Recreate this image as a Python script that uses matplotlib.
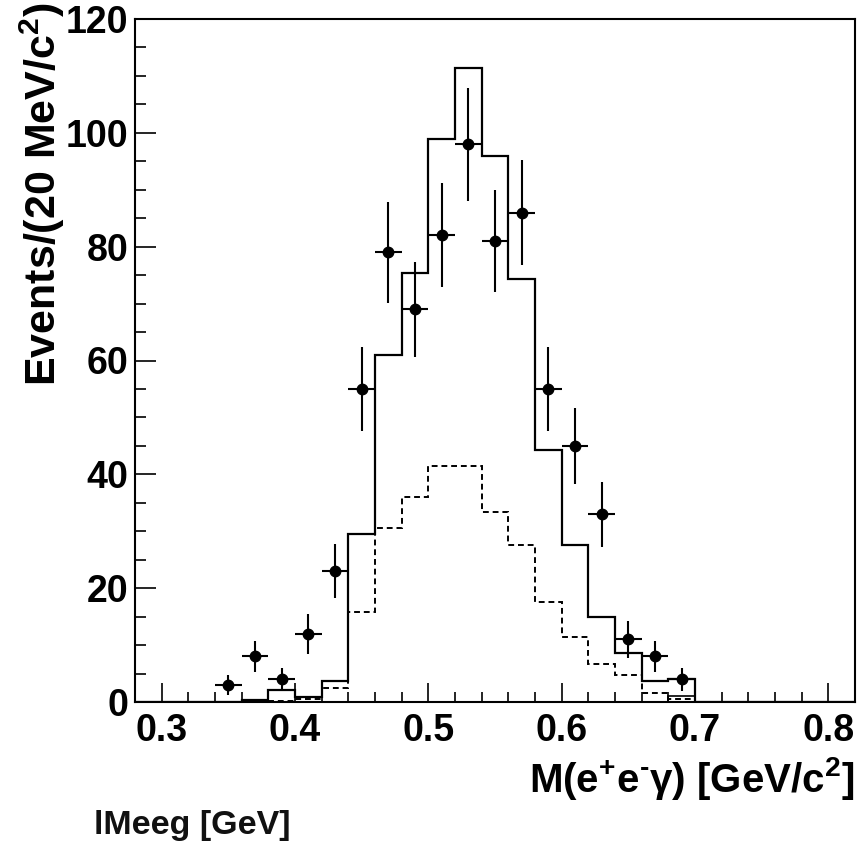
import numpy as np
import matplotlib
matplotlib.use("Agg")
import matplotlib.pyplot as plt
from matplotlib.ticker import MultipleLocator

plt.rcParams['font.family'] = ['Liberation Sans', 'DejaVu Sans']
plt.rcParams['font.weight'] = 'bold'
plt.rcParams['mathtext.fontset'] = 'custom'
plt.rcParams['mathtext.rm'] = 'Liberation Sans:bold'
plt.rcParams['mathtext.it'] = 'Liberation Sans:bold'
plt.rcParams['mathtext.bf'] = 'Liberation Sans:bold'

# Histogram bin edges (20 MeV bins)
bin_edges = [0.28, 0.30, 0.32, 0.34, 0.36, 0.38, 0.40, 0.42, 0.44, 0.46, 0.48,
             0.50, 0.52, 0.54, 0.56, 0.58, 0.60, 0.62, 0.64, 0.66, 0.68, 0.70,
             0.72, 0.74, 0.76, 0.78, 0.80, 0.82]

# Total MC (solid)
mc_total = [0, 0, 0, 0, 0.4, 2.1, 0.8, 3.7, 29.5, 61.0, 75.4, 99.0, 111.4, 96.0,
            74.3, 44.3, 27.6, 15.0, 8.6, 3.7, 4.0, 0, 0, 0, 0, 0, 0]
# Component (dashed)
mc_dashed = [0, 0, 0, 0, 0.3, 0.1, 0.5, 2.4, 15.9, 30.6, 36.0, 41.5, 41.5, 33.4,
             27.6, 17.6, 11.5, 6.6, 4.7, 1.6, 0.5, 0, 0, 0, 0, 0, 0]
# Small background (solid thin)
mc_bkg = [0, 0, 0, 0, 0, 0, 0, 0, 0, 0, 0, 0, 0, 0,
          0, 0, 0, 0, 0, 0, 1.0, 0, 0, 0, 0, 0, 0]

# Data points
data_x = [0.35, 0.37, 0.39, 0.41, 0.43, 0.45, 0.47, 0.49, 0.51, 0.53, 0.55,
          0.57, 0.59, 0.61, 0.63, 0.65, 0.67, 0.69]
data_y = [3, 8, 4, 12, 23, 55, 79, 69, 82, 98, 81, 86, 55, 45, 33, 11, 8, 4]
data_err = [1.7, 2.8, 2.0, 3.5, 4.8, 7.4, 8.9, 8.3, 9.1, 9.9, 9.0, 9.3, 7.4,
            6.7, 5.7, 3.3, 2.8, 2.0]
data_xerr = 0.01

fig = plt.figure(figsize=(8.57, 8.48), dpi=100)
ax = fig.add_axes([135/857, 1 - 702/848, (855 - 135)/857, (702 - 19)/848])

ax.stairs(mc_total, bin_edges, color='black', lw=1.6)
ax.stairs(mc_dashed, bin_edges, color='black', lw=1.4, linestyle=(0, (3, 2)))
ax.stairs(mc_bkg, bin_edges, color='black', lw=1.2)
ax.errorbar(data_x, data_y, yerr=data_err, xerr=data_xerr, fmt='o', color='black',
            ms=7.5, elinewidth=1.5, capsize=0, zorder=5)

ax.set_xlim(0.28, 0.82)
ax.set_ylim(0, 120)
ax.xaxis.set_major_locator(MultipleLocator(0.1))
ax.xaxis.set_minor_locator(MultipleLocator(0.02))
ax.yaxis.set_major_locator(MultipleLocator(20))
ax.yaxis.set_minor_locator(MultipleLocator(5))
ax.tick_params(axis='x', which='major', direction='in', length=14, width=1.2,
               labelsize=27, pad=8)
ax.tick_params(axis='x', which='minor', direction='in', length=7, width=1.2)
ax.tick_params(axis='y', which='major', direction='in', length=15, width=1.2,
               labelsize=27, pad=5)
ax.tick_params(axis='y', which='minor', direction='in', length=8, width=1.2)
ax.set_xticks([0.3, 0.4, 0.5, 0.6, 0.7, 0.8])
ax.set_xticklabels(['0.3', '0.4', '0.5', '0.6', '0.7', '0.8'])
for lab in ax.get_xticklabels() + ax.get_yticklabels():
    lab.set_fontweight('bold')
for s in ax.spines.values():
    s.set_linewidth(1.5)

fig.text(42/857, 1 - 2/848, r'Events/(20 MeV/c$^{2}$)', rotation=90,
         ha='center', va='top', fontsize=31, fontweight='bold')
fig.text(854/857, 1 - 778/848, 'M(e$^{+}$e$^{\u2010}$$\\gamma$) [GeV/c$^{2}$]',
         ha='right', va='center', fontsize=29, fontweight='bold')
fig.text(94/857, 1 - 834/848, 'lMeeg [GeV]', ha='left', va='baseline',
         fontsize=24.5, fontweight='bold', color='#111111')

fig.savefig('out.png', dpi=100)
